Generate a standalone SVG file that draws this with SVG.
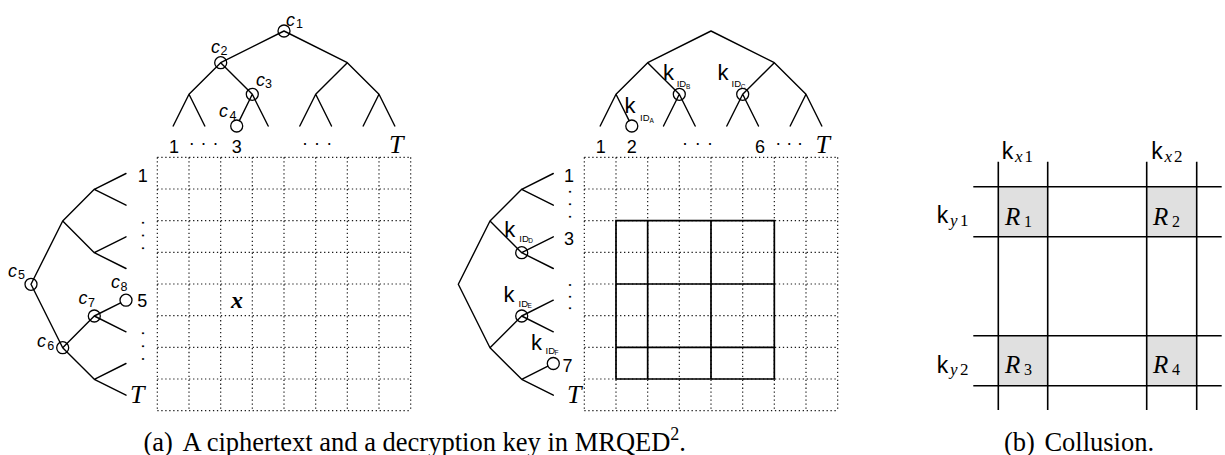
<svg xmlns="http://www.w3.org/2000/svg" width="1225" height="455" viewBox="0 0 1225 455">
<style>
.e{stroke:#000;stroke-width:1.4;fill:none;stroke-linecap:round;stroke-linejoin:round}
.n{stroke:#000;stroke-width:1.3;fill:none}
.dot{stroke:#1a1a1a;stroke-width:1.2;stroke-dasharray:1.3 2.67;fill:none}
.sol{stroke:#000;stroke-width:1.7;fill:none}
.ln{stroke:#000;stroke-width:1.6;fill:none}
.gr{fill:#e0e0e0;stroke:none}
.s{font-family:"Liberation Sans",Arial,sans-serif;fill:#000}
.lb{font-size:18px;text-anchor:middle}
.vd{font-size:18px}
.ci{font-style:italic;font-size:18px}
.cs{font-style:normal;font-size:12.5px}
.k{font-size:22px}
.id{font-size:9.5px}
.idl{font-size:6.5px}
.m{font-family:"Liberation Serif","Times New Roman",serif;fill:#000}
.T{font-style:italic;font-size:26px}
.R{font-style:italic;font-size:25px}
.rs{font-style:normal;font-size:16px}
.ks{font-style:normal;font-size:17px}
.kx{font-size:23px}
.xs{font-style:italic;font-size:17px}
.cap{font-size:26.5px}
</style>

<!-- grids -->
<g id="grid-a">
<path class="dot" d="M157.33 157.33V410.67M189 157.33V410.67M220.67 157.33V410.67M252.33 157.33V410.67M284 157.33V410.67M315.67 157.33V410.67M347.33 157.33V410.67M379 157.33V410.67M410.67 157.33V410.67M157.33 157.33H410.67M157.33 189H410.67M157.33 220.67H410.67M157.33 252.33H410.67M157.33 284H410.67M157.33 315.67H410.67M157.33 347.33H410.67M157.33 379H410.67M157.33 410.67H410.67"/>
<text class="m" x="231" y="308.3" font-style="italic" font-weight="bold" font-size="24">x</text>
</g>
<g id="grid-b">
<path class="dot" d="M584.33 157.33V410.67M616 157.33V410.67M647.67 157.33V410.67M679.33 157.33V410.67M711 157.33V410.67M742.67 157.33V410.67M774.33 157.33V410.67M806 157.33V410.67M837.67 157.33V410.67M584.33 157.33H837.67M584.33 189H837.67M584.33 220.67H837.67M584.33 252.33H837.67M584.33 284H837.67M584.33 315.67H837.67M584.33 347.33H837.67M584.33 379H837.67M584.33 410.67H837.67"/>
<path class="sol" d="M616 220.67H774.33V379H616ZM647.67 220.67V379M711 220.67V379M616 284H774.33M616 347.33H774.33"/>
</g>

<!-- connectors -->
<g id="connectors" class="e">
<path d="M220.7 62.7L284 31L347.3 62.7M189 94.3L220.7 62.7L252.3 94.3M315.7 94.3L347.3 62.7L379 94.3M173.2 126L189 94.3L204.8 126M239.35 120.62L252.3 94.3L268.2 126M299.8 126L315.7 94.3L331.5 126M363.2 126L379 94.3L394.8 126"/>
<path d="M62.7 221L31 284.3L62.7 347.7M94.3 189.3L62.7 221L94.3 252.7M94.3 316L62.7 347.7L94.3 379.3M126 173.5L94.3 189.3L126 205.2M126 236.8L94.3 252.7L126 268.5M120.63 302.88L94.3 316L126 331.8M126 363.5L94.3 379.3L126 395.2"/>
<path d="M647.7 62.7L711 31L774.3 62.7M616 94.3L647.7 62.7L679.3 94.3M742.7 94.3L774.3 62.7L806 94.3M600.2 126L616 94.3L629.12 120.63M663.5 126L679.3 94.3L695.2 126M726.8 126L742.7 94.3L758.5 126M790.2 126L806 94.3L821.8 126"/>
<path d="M490 221L458.3 284.3L490 347.7M521.7 189.3L490 221L521.7 252.7M521.7 316L490 347.7L521.7 379.3M553.3 173.5L521.7 189.3L553.3 205.2M553.3 236.8L521.7 252.7L553.3 268.5M553.3 300.2L521.7 316L553.3 331.8M547.93 366.18L521.7 379.3L553.3 395.2"/>
</g>

<!-- nodes: ciphertext -->
<g id="c1"><circle class="n" cx="284" cy="31" r="6"/><text class="s ci" x="286" y="26">c<tspan class="cs" x="296" y="28">1</tspan></text></g>
<g id="c2"><circle class="n" cx="220.7" cy="62.7" r="6"/><text class="s ci" x="211" y="53">c<tspan class="cs" x="220.5" y="55">2</tspan></text></g>
<g id="c3"><circle class="n" cx="252.3" cy="94.3" r="6"/><text class="s ci" x="256" y="85.5">c<tspan class="cs" x="265" y="88">3</tspan></text></g>
<g id="c4"><circle class="n" cx="236.7" cy="126" r="6"/><text class="s ci" x="219" y="117.3">c<tspan class="cs" x="229.5" y="119.5">4</tspan></text></g>
<g id="c5"><circle class="n" cx="31" cy="284.3" r="6"/><text class="s ci" x="8" y="277">c<tspan class="cs" x="18" y="279">5</tspan></text></g>
<g id="c6"><circle class="n" cx="62.7" cy="347.7" r="6"/><text class="s ci" x="37" y="347.3">c<tspan class="cs" x="47.3" y="349.5">6</tspan></text></g>
<g id="c7"><circle class="n" cx="94.3" cy="316" r="6"/><text class="s ci" x="78.5" y="304">c<tspan class="cs" x="88" y="306.5">7</tspan></text></g>
<g id="c8"><circle class="n" cx="126" cy="300.2" r="6"/><text class="s ci" x="111" y="288.3">c<tspan class="cs" x="120.5" y="290.5">8</tspan></text></g>

<!-- nodes: key -->
<g id="kIDA"><circle class="n" cx="631.8" cy="126" r="6"/><text class="s k" x="624.5" y="113.3">k<tspan class="id" x="640" y="121">ID</tspan><tspan class="idl" x="649.5" y="122.5">A</tspan></text></g>
<g id="kIDB"><circle class="n" cx="679.3" cy="94.3" r="6"/><text class="s k" x="663" y="80">k<tspan class="id" x="676.7" y="87.3">ID</tspan><tspan class="idl" x="686" y="88.5">B</tspan></text></g>
<g id="kIDC"><circle class="n" cx="742.7" cy="94.3" r="6"/><text class="s k" x="717.5" y="80">k<tspan class="id" x="731.5" y="87.3">ID</tspan><tspan class="idl" x="740.8" y="88.5">C</tspan></text></g>
<g id="kIDD"><circle class="n" cx="521.7" cy="252.7" r="6"/><text class="s k" x="504.3" y="236.7">k<tspan class="id" x="519.3" y="241.7">ID</tspan><tspan class="idl" x="528.2" y="242.7">D</tspan></text></g>
<g id="kIDE"><circle class="n" cx="521.7" cy="316" r="6"/><text class="s k" x="503.5" y="301.7">k<tspan class="id" x="518.5" y="306.7">ID</tspan><tspan class="idl" x="527.5" y="307.5">E</tspan></text></g>
<g id="kIDF"><circle class="n" cx="553.3" cy="363.5" r="6"/><text class="s k" x="531" y="350">k<tspan class="id" x="545.5" y="354">ID</tspan><tspan class="idl" x="554.5" y="355">F</tspan></text></g>

<!-- leaf labels -->
<g id="labels-top-a">
<text class="s lb" x="174" y="152.5">1</text>
<text class="s lb" x="191.7" y="145.2">.</text><text class="s lb" x="203.5" y="145.2">.</text><text class="s lb" x="215.5" y="145.2">.</text>
<text class="s lb" x="236.7" y="152.5">3</text>
<text class="s lb" x="305" y="145.2">.</text><text class="s lb" x="317" y="145.2">.</text><text class="s lb" x="329.3" y="145.2">.</text>
<text class="m T" x="389" y="152.7">T</text>
</g>
<g id="labels-left-a">
<text class="s lb" x="142.7" y="182">1</text>
<text class="s vd" transform="translate(141.6 220.2) rotate(90)" letter-spacing="7.8">...</text>
<text class="s lb" x="142.2" y="307">5</text>
<text class="s vd" transform="translate(141.6 330.8) rotate(90)" letter-spacing="7.85">...</text>
<text class="m T" x="130" y="403">T</text>
</g>
<g id="labels-top-b">
<text class="s lb" x="600.8" y="152.5">1</text>
<text class="s lb" x="631.7" y="152.5">2</text>
<text class="s lb" x="685" y="145.2">.</text><text class="s lb" x="697.7" y="145.2">.</text><text class="s lb" x="710" y="145.2">.</text>
<text class="s lb" x="760" y="152.5">6</text>
<text class="s lb" x="778.3" y="145.2">.</text><text class="s lb" x="789.3" y="145.2">.</text><text class="s lb" x="800" y="145.2">.</text>
<text class="m T" x="815.5" y="152.7">T</text>
</g>
<g id="labels-left-b">
<text class="s lb" x="569" y="181.7">1</text>
<text class="s vd" transform="translate(568.9 189.2) rotate(90)" letter-spacing="7.5">...</text>
<text class="s lb" x="569" y="245">3</text>
<text class="s vd" transform="translate(568.9 282.5) rotate(90)" letter-spacing="6.65">...</text>
<text class="s lb" x="567.5" y="371.7">7</text>
<text class="m T" x="567" y="403">T</text>
</g>

<!-- collision panel -->
<g id="collision">
<rect class="gr" x="998.3" y="186.7" width="49.4" height="50"/>
<rect class="gr" x="1146.7" y="186.7" width="50" height="50"/>
<rect class="gr" x="998.3" y="335.7" width="49.4" height="50"/>
<rect class="gr" x="1146.7" y="335.7" width="50" height="50"/>
<path class="ln" d="M998.3 161.7V410M1047.7 161.7V410M1146.7 161.7V410M1196.7 161.7V410M973.3 186.7H1221.7M973.3 236.7H1221.7M973.3 335.7H1221.7M973.3 385.7H1221.7"/>
<g id="kx1"><text class="s kx" x="1001.8" y="159.3">k<tspan class="m xs" x="1015" y="162">x</tspan><tspan class="m ks" x="1024.5" y="162">1</tspan></text></g>
<g id="kx2"><text class="s kx" x="1151.2" y="159.3">k<tspan class="m xs" x="1164.5" y="162">x</tspan><tspan class="m ks" x="1174" y="162">2</tspan></text></g>
<g id="ky1"><text class="s kx" x="936.8" y="223">k<tspan class="m xs" x="950" y="225.5">y</tspan><tspan class="m ks" x="960" y="225.5">1</tspan></text></g>
<g id="ky2"><text class="s kx" x="936.8" y="372.7">k<tspan class="m xs" x="950" y="375">y</tspan><tspan class="m ks" x="960" y="375">2</tspan></text></g>
<g id="R1"><text class="m R" x="1005" y="225">R<tspan class="rs" x="1024" y="227">1</tspan></text></g>
<g id="R2"><text class="m R" x="1153" y="225">R<tspan class="rs" x="1172" y="227">2</tspan></text></g>
<g id="R3"><text class="m R" x="1005" y="373.3">R<tspan class="rs" x="1024" y="375.3">3</tspan></text></g>
<g id="R4"><text class="m R" x="1153" y="373.3">R<tspan class="rs" x="1172" y="375.3">4</tspan></text></g>
</g>

<!-- captions -->
<text class="m cap" x="143.5" y="451">(a)<tspan dx="9.5">A ciphertext and a decryption key in MRQED</tspan><tspan font-size="18" dy="-11">2</tspan><tspan dy="11">.</tspan></text>
<text class="m cap" x="1004" y="451">(b)<tspan dx="9.5">Collusion.</tspan></text>
</svg>
